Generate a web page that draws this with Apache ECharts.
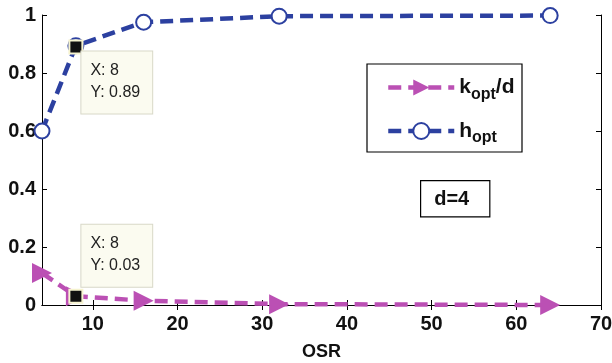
<!DOCTYPE html>
<html>
<head>
<meta charset="utf-8">
<script src="https://cdn.jsdelivr.net/npm/echarts@6/dist/echarts.min.js"></script>
<style>
  html, body { margin: 0; padding: 0; background: #fff; }
  #main { width: 612px; height: 363px; }
</style>
</head>
<body>
<div id="main"></div>
<script>
// OSR values and the two curves
var osr = [4, 8, 16, 32, 64];
var kOptD = [0.11, 0.03, 0.015, 0.003, 0.0];
var hOpt = [0.6, 0.894, 0.975, 0.996, 0.998];
var xTicks = [10, 20, 30, 40, 50, 60, 70];
var yTicks = [0, 0.2, 0.4, 0.6, 0.8, 1];
// data tips (x, y)
var tipH = [8, 0.89];
var tipK = [8, 0.03];

var blue = '#2c40a0';
var magenta = '#bb50b4';
var font = 'Liberation Sans, Arial, sans-serif';

function pairs(xs, ys) {
  return xs.map(function (x, i) { return [x, ys[i]]; });
}

function tipPoint(coord, pos) {
  return {
    coord: coord,
    symbol: 'rect',
    symbolSize: 13,
    itemStyle: { color: '#111', borderColor: '#f6f3cf', borderWidth: 2 },
    label: {
      show: true,
      position: pos,
      formatter: 'X: ' + coord[0] + '\nY: ' + coord[1],
      fontFamily: font,
      fontSize: 16,
      color: '#222',
      lineHeight: 22,
      align: 'left',
      verticalAlign: 'top',
      backgroundColor: '#fbfbf0',
      borderColor: '#d8d8c8',
      borderWidth: 1,
      padding: [8, 12, 10, 9]
    }
  };
}

var chart = echarts.init(document.getElementById('main'));
var axisLabelStyle = { fontFamily: font, fontSize: 20, fontWeight: 'bold', color: '#111' };

chart.setOption({
  animation: false,
  grid: { left: 42, top: 15, right: 11, bottom: 58, outerBoundsMode: 'none', containLabel: false },
  xAxis: [{
    type: 'value', min: 4, max: 70,
    name: 'OSR', nameLocation: 'middle', nameGap: 38,
    nameTextStyle: { fontFamily: font, fontSize: 18, fontWeight: 'bold', color: '#111' },
    axisLine: { lineStyle: { color: '#000', width: 1 } },
    axisTick: { inside: true, length: 5, customValues: xTicks, lineStyle: { color: '#000' } },
    axisLabel: Object.assign({ customValues: xTicks, margin: 9 }, axisLabelStyle),
    splitLine: { show: false }
  }, {
    type: 'value', min: 4, max: 70, position: 'top',
    axisLine: { lineStyle: { color: '#000', width: 1 } },
    axisTick: { inside: true, length: 5, customValues: xTicks, lineStyle: { color: '#000' } },
    axisLabel: { show: false },
    splitLine: { show: false }
  }],
  yAxis: [{
    type: 'value', min: 0, max: 1,
    axisLine: { show: true, lineStyle: { color: '#000', width: 1 } },
    axisTick: { show: true, inside: true, length: 5, customValues: yTicks, lineStyle: { color: '#000' } },
    axisLabel: Object.assign({ customValues: yTicks, margin: 6 }, axisLabelStyle),
    splitLine: { show: false }
  }, {
    type: 'value', min: 0, max: 1, position: 'right',
    axisLine: { show: true, lineStyle: { color: '#000', width: 1 } },
    axisTick: { show: true, inside: true, length: 5, customValues: yTicks, lineStyle: { color: '#000' } },
    axisLabel: { show: false },
    splitLine: { show: false }
  }],
  legend: {
    orient: 'vertical',
    left: 381, top: 72,
    itemWidth: 66, itemHeight: 20, itemGap: 18,
    selectedMode: false,
    lineStyle: { width: 4.5 },
    formatter: function (name) {
      if (name === 'kopt/d') return '{m|k}{s|opt}{m|/d}';
      return '{m|h}{s|opt}';
    },
    textStyle: {
      rich: {
        m: { fontFamily: font, fontSize: 21, fontWeight: 'bold', color: '#111', lineHeight: 30, verticalAlign: 'middle' },
        s: { fontFamily: font, fontSize: 16, fontWeight: 'bold', color: '#111', lineHeight: 30, verticalAlign: 'bottom' }
      }
    },
    data: [
      { name: 'kopt/d' },
      { name: 'hopt', itemStyle: { color: blue, borderColor: blue, borderWidth: 4 } }
    ]
  },
  graphic: [{
    type: 'rect',
    shape: { x: 367, y: 64, width: 155, height: 88 },
    style: { fill: 'none', stroke: '#000', lineWidth: 1.2 },
    z: 0
  }, {
    type: 'text',
    left: 420, top: 180,
    style: {
      text: 'd=4',
      fontFamily: font, fontSize: 20, fontWeight: 'bold', fill: '#111',
      backgroundColor: '#fff',
      borderColor: '#000', borderWidth: 1.2,
      padding: [8, 20, 7, 13]
    }
  }],
  series: [{
    name: 'kopt/d',
    type: 'line',
    data: pairs(osr, kOptD),
    clip: false,
    symbol: 'triangle',
    symbolRotate: -90,
    symbolSize: 20,
    itemStyle: { color: magenta },
    lineStyle: { color: magenta, width: 4.5, type: [13, 7] },
    markPoint: { data: [tipPoint(tipK, [13, -64])], z: 10 },
    z: 3
  }, {
    name: 'hopt',
    type: 'line',
    data: pairs(osr, hOpt),
    clip: false,
    symbol: 'emptyCircle',
    symbolSize: 15,
    itemStyle: { color: blue, borderWidth: 4 },
    lineStyle: { color: blue, width: 4.5, type: [13, 7] },
    markPoint: { data: [tipPoint(tipH, [13, 12])], z: 10 },
    z: 2
  }]
});
</script>
</body>
</html>
